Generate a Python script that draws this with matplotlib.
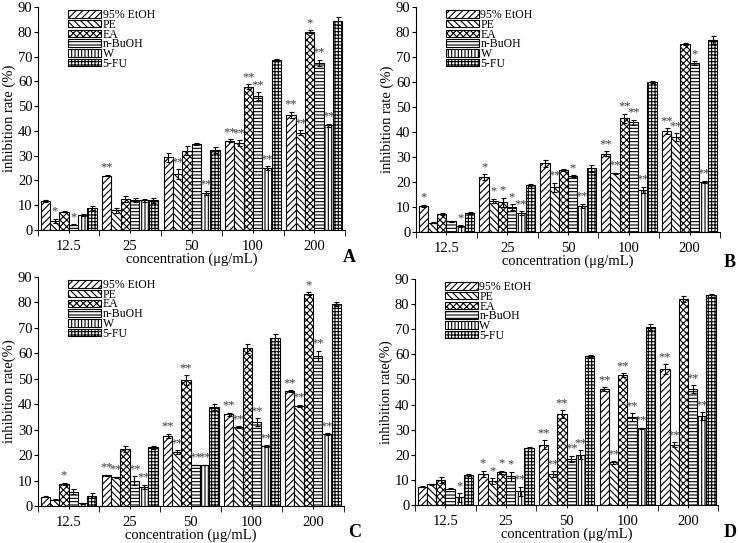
import numpy as np
import matplotlib
matplotlib.use('Agg')
import matplotlib.pyplot as plt

plt.rcParams['font.family'] = ['Liberation Serif', 'DejaVu Serif']
plt.rcParams['hatch.linewidth'] = 0.8

concentrations = ['12.5', '25', '50', '100', '200']
series = ['95% EtOH', 'PE', 'EA', 'n-BuOH', 'W', '5-FU']
hatches = ['/////', '\\\\\\\\\\', 'xxxxx', '-----', '|||||', '+++++']

# panel A: rows follow the order of `series`
a_values = [[11.8, 22.0, 29.3, 36.0, 46.5],
            [3.8, 8.0, 22.5, 35.0, 39.3],
            [7.3, 12.5, 32.0, 57.8, 80.0],
            [2.2, 12.0, 34.7, 54.0, 67.5],
            [6.0, 12.0, 15.0, 25.0, 42.3],
            [9.0, 12.0, 32.3, 68.5, 84.5]]
a_errors = [[0.4, 0.3, 1.8, 0.6, 1.3],
            [0.8, 1.0, 2.0, 1.2, 1.0],
            [0.2, 1.3, 1.8, 1.0, 0.6],
            [0.2, 0.8, 0.4, 1.5, 1.3],
            [0.3, 0.5, 0.7, 0.7, 0.6],
            [0.8, 1.0, 1.3, 0.4, 1.6]]
a_marks = [['', '**', '', '**', '**'],
           ['*', '', '**', '**', '**'],
           ['', '', '', '**', '*'],
           ['*', '', '', '**', '**'],
           ['', '', '**', '**', '**'],
           ['', '', '', '', '']]

b_values = [[10.5, 22.0, 27.5, 31.3, 40.3],
            [3.8, 12.5, 18.0, 23.5, 38.0],
            [7.3, 12.0, 25.0, 45.5, 75.3],
            [4.3, 10.0, 22.3, 44.0, 67.5],
            [2.3, 7.5, 10.5, 17.0, 20.0],
            [7.8, 18.8, 25.5, 60.0, 76.8]]
b_errors = [[0.4, 1.2, 1.4, 1.0, 1.2],
            [0.3, 0.8, 1.8, 0.3, 1.5],
            [0.3, 1.8, 0.4, 1.8, 0.3],
            [0.2, 1.2, 0.4, 1.0, 0.8],
            [0.4, 0.8, 0.8, 1.2, 0.5],
            [0.4, 0.4, 1.5, 0.3, 1.6]]
b_marks = [['*', '*', '', '**', '**'],
           ['', '*', '**', '**', '**'],
           ['', '*', '', '**', ''],
           ['', '*', '*', '**', '*'],
           ['*', '**', '**', '**', '**'],
           ['', '', '', '', '']]

c_values = [[3.7, 12.0, 27.5, 36.0, 45.2],
            [2.5, 11.3, 21.3, 31.0, 39.3],
            [8.7, 22.5, 49.5, 62.0, 83.5],
            [5.7, 10.0, 16.3, 33.0, 59.0],
            [1.0, 7.5, 16.3, 23.5, 28.3],
            [4.0, 23.0, 38.8, 66.2, 79.3]]
c_errors = [[0.3, 0.3, 0.9, 0.7, 0.4],
            [0.2, 0.3, 0.7, 0.3, 0.5],
            [0.5, 1.2, 1.8, 1.8, 0.6],
            [0.9, 1.8, 0.0, 1.5, 2.0],
            [0.1, 0.9, 0.0, 0.4, 0.3],
            [1.0, 0.7, 1.2, 1.3, 0.8]]
c_marks = [['', '**', '**', '**', '**'],
           ['', '**', '**', '**', '**'],
           ['*', '', '**', '', '*'],
           ['', '**', '**', '**', '**'],
           ['', '**', '**', '**', '**'],
           ['', '', '', '', '']]

d_values = [[7.3, 12.5, 24.0, 46.2, 54.2],
            [8.3, 9.5, 12.3, 17.0, 24.0],
            [9.8, 13.0, 36.2, 51.8, 82.2],
            [6.5, 11.5, 18.3, 35.0, 46.0],
            [3.0, 5.5, 20.0, 30.5, 35.5],
            [12.0, 22.8, 59.3, 71.0, 83.5]]
d_errors = [[0.3, 1.2, 1.8, 0.7, 2.0],
            [0.2, 1.2, 1.2, 0.5, 1.0],
            [1.2, 0.7, 1.5, 0.7, 1.2],
            [0.3, 1.8, 1.3, 1.5, 1.6],
            [1.8, 1.8, 1.8, 0.3, 1.5],
            [0.4, 0.3, 0.3, 1.2, 0.6]]
d_marks = [['', '*', '**', '**', '**'],
           ['', '*', '**', '**', '**'],
           ['', '*', '**', '**', ''],
           ['', '*', '**', '**', '**'],
           ['*', '**', '**', '**', '**'],
           ['', '', '', '', '']]


def draw_panel(ax, values, errors, marks, ylabel):
    x = np.arange(len(concentrations))
    width = 0.152
    for i, name in enumerate(series):
        pos = x + (i - 2.5) * width
        ax.bar(pos, values[i], width, color='white', edgecolor='black',
               linewidth=0.8, hatch=hatches[i], label=name,
               yerr=errors[i], capsize=1.8,
               error_kw=dict(elinewidth=0.8, capthick=0.8, ecolor='black'))
        for xp, v, e, m in zip(pos, values[i], errors[i], marks[i]):
            if m:
                ax.text(xp, v + e + 0.4, m, ha='center', va='bottom',
                        fontsize=9, color='#3a3a3a')
    ax.set_xlim(-0.5, len(concentrations) - 0.5)
    ax.set_ylim(0, 90)
    ax.set_yticks(range(0, 91, 10))
    ax.set_xticks(x)
    ax.set_xticklabels(concentrations)
    ax.set_xticks(np.arange(-0.5, len(concentrations)), minor=True)
    ax.tick_params(axis='x', which='major', length=2, direction='out', labelsize=10.5, pad=5)
    ax.tick_params(axis='x', which='minor', length=4, direction='out')
    ax.tick_params(axis='y', length=3, direction='out', labelsize=10.5, pad=1)
    for s in ['top', 'right']:
        ax.spines[s].set_visible(False)
    for s in ['left', 'bottom']:
        ax.spines[s].set_linewidth(0.8)
    ax.set_xlabel('concentration (\u03bcg/mL)', fontsize=10.5, labelpad=0)
    ax.set_ylabel(ylabel, fontsize=10.5, labelpad=1)
    ax.legend(loc='upper left', bbox_to_anchor=(0.082, 1.012), frameon=False,
              fontsize=8.5, handlelength=2.8, handleheight=0.6,
              labelspacing=-0.19, handletextpad=0.15, borderaxespad=0)


fig = plt.figure(figsize=(7.38, 5.43), dpi=100)
ax_a = fig.add_axes([0.0515, 0.5764, 0.416, 0.4107])
ax_b = fig.add_axes([0.5637, 0.5727, 0.412, 0.4144])
ax_c = fig.add_axes([0.0515, 0.0681, 0.414, 0.4218])
ax_d = fig.add_axes([0.5623, 0.0700, 0.411, 0.4162])

draw_panel(ax_a, a_values, a_errors, a_marks, 'inhibition rate (%)')
draw_panel(ax_b, b_values, b_errors, b_marks, 'inhibition rate (%)')
draw_panel(ax_c, c_values, c_errors, c_marks, 'inhibition rate(%)')
draw_panel(ax_d, d_values, d_errors, d_marks, 'inhibition rate(%)')

fig.text(0.474, 0.525, 'A', fontsize=13, fontweight='bold', ha='center', va='center')
fig.text(0.989, 0.517, 'B', fontsize=13, fontweight='bold', ha='center', va='center')
fig.text(0.481, 0.020, 'C', fontsize=13, fontweight='bold', ha='center', va='center')
fig.text(0.990, 0.020, 'D', fontsize=13, fontweight='bold', ha='center', va='center')

fig.savefig('out.png', dpi=100)
